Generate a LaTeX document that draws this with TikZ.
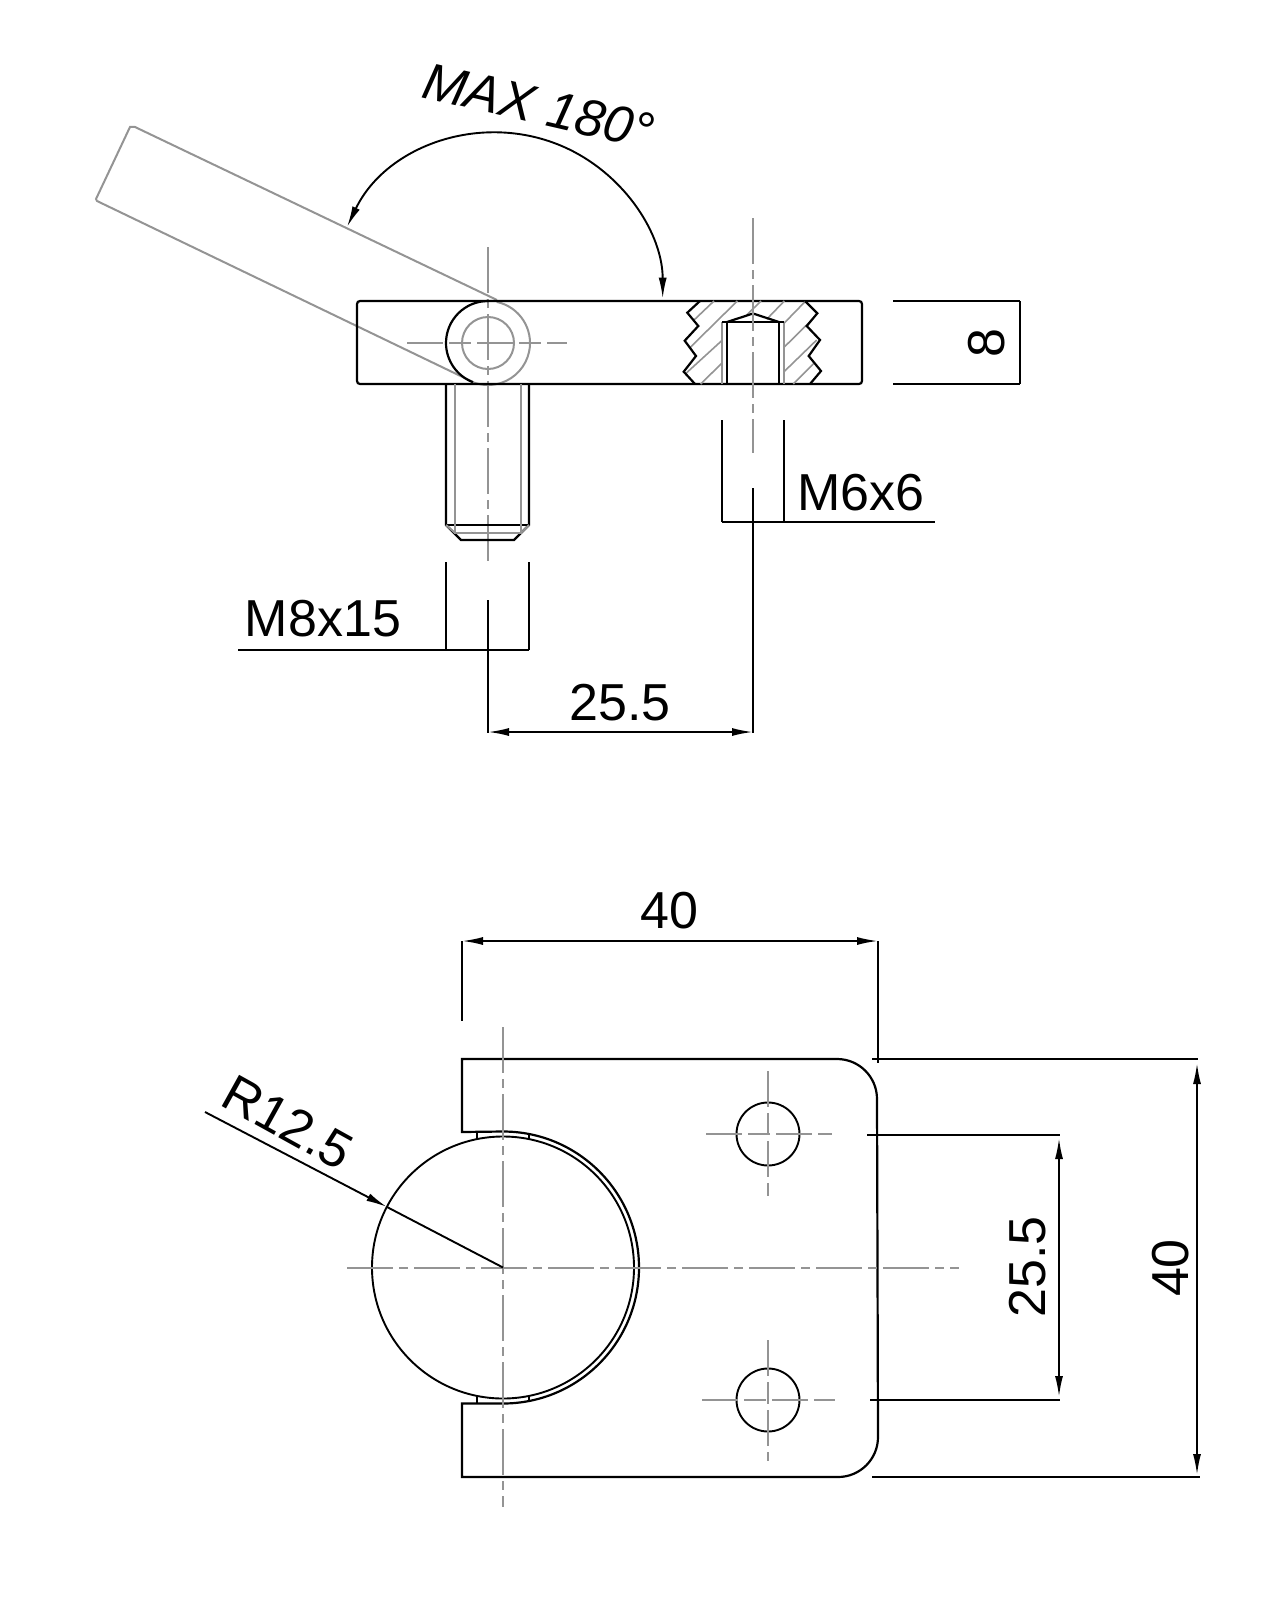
\documentclass[tikz,border=0pt]{standalone}
\usepackage{fontspec}
\setmainfont{Liberation Sans}
\usetikzlibrary{arrows.meta}
\tikzset{
  outline/.style={line width=2.2pt,color=black},
  dimline/.style={line width=1.9pt,color=black},
  greyline/.style={line width=2pt,color=black!42},
  centreline/.style={line width=2pt,color=black!42,dash pattern=on 46pt off 6pt on 9pt off 6pt},
  smallcentre/.style={line width=2pt,color=black!42,dash pattern=on 36pt off 6pt on 22pt off 6pt},
  dimarrow/.style={dimline,{Latex[length=21pt,width=8pt]}-{Latex[length=21pt,width=8pt]}},
  dimtext/.style={font=\fontsize{52}{60}\selectfont,inner sep=0pt}
}
\begin{document}
\begin{tikzpicture}[x=1pt,y=-1pt]
\useasboundingbox (0,0) rectangle (1280,1600);
\coordinate (pin) at (488,343);
\coordinate (hole) at (753,343);
\coordinate (bore) at (503,1267.5);
\coordinate (swing) at (497,299);

\draw[greyline] (497,300) -- (135,127) -- (130,127) -- (96,199) -- (97,201) -- (473,382);
\draw[centreline] (488,247) -- (488,565);
\draw[smallcentre] (407,343) -- (567,343);
\draw[greyline] (pin) circle[radius=26];
\draw[greyline] (pin) ++(-78:42) arc[start angle=-78,end angle=111,radius=42];
\draw[outline] (pin) ++(-90:42) arc[start angle=-90,end angle=-249,radius=42];
\draw[outline,rounded corners=3pt] (488,301) -- (357,301) -- (357,384) -- (862,384) -- (862,301) -- cycle;
\draw[outline] (446,384) -- (446,525) -- (461,540) -- (514,540) -- (529,525) -- (529,384);
\draw[outline] (446,525) -- (529,525);
\draw[greyline] (455,384) -- (455,533) -- (521,533) -- (521,384);
\draw[greyline] (446,525) -- (455,533) (529,525) -- (521,533);

\foreach \xa/\ya/\xb/\yb in {714/301/693.3/320.7,737.3/301/689.3/348.3,761/301/746.7/315,784.3/301/766.7/319.3,805/301.7/784/323.3,811.7/320/784/347.3,816.7/340/784/371.7,813.3/364/793.3/384,721.7/340.7/686/373.3,721.7/363.3/700.7/384}
  \draw[greyline,line width=1.6pt] (\xa,\ya) -- (\xb,\yb);
\draw[greyline] (722,322) -- (722,384) (784,322) -- (784,384);
\draw[outline] (700,301) -- (687.3,312.7) -- (698.3,326) -- (684.7,340.7) -- (696,356) -- (683.7,371.7) -- (695,384);
\draw[outline] (805,301) -- (817.3,313.3) -- (806.7,326) -- (820,340) -- (808.7,356) -- (821,371) -- (810,384);
\draw[outline] (727,384) -- (727,322) -- (779,322) -- (779,384);
\draw[outline] (722,322) -- (784,322);
\draw[outline] (727,322) -- (753,313.5) -- (779,322);
\draw[centreline] (hole |- 0,218) -- (hole |- 0,453);

\draw[dimline,{Latex[length=21pt,width=8pt]}-{Latex[length=21pt,width=8pt]}] (347,227) arc[start angle=-154.4,end angle=0,radius=166];
\node[dimtext,rotate=-13,font=\fontsize{52}{60}\selectfont\itshape] (maxangle) at (539,106) {MAX 180°};

\draw[dimline] (893,301) -- (1020,301);
\draw[dimline] (893,384) -- (1020,384);
\draw[dimline] (1020,301) -- (1020,384);
\node[dimtext,rotate=90] (dimthick) at (987,343) {8};
\draw[dimline] (722,420) -- (722,522) (784,420) -- (784,522);
\draw[dimline] (722,522) -- (935,522);
\node[dimtext] (dimhole) at (861,493) {M6x6};
\draw[dimline] (446,562) -- (446,650) (529,562) -- (529,650);
\draw[dimline] (238,650) -- (529,650);
\node[dimtext] (dimstud) at (323,619) {M8x15};
\draw[dimline] (488,600) -- (488,733);
\draw[dimline] (753,488) -- (753,733);
\draw[dimarrow] (488,732) -- (753,732);
\node[dimtext] (dimpitch) at (620,703) {25.5};

\draw[outline] (462,1132) -- (462,1059) -- (837,1059) arc[start angle=-90,end angle=0,radius=40] -- (878,1437) arc[start angle=0,end angle=90,radius=40] -- (462,1477) -- (462,1403.5) -- (503,1403.5) arc[start angle=90,end angle=-90,radius=136] -- cycle;
\draw[dimline] (bore) circle[radius=131];
\draw[dimline] (477,1132) -- (477,1139) (477,1403) -- (477,1396);
\draw[dimline] (529,1133.5) -- (529,1139) (529,1401.5) -- (529,1396);
\draw[centreline] (bore |- 0,1027) -- (bore |- 0,1507);
\draw[centreline] (347,1267.5) -- (959,1267.5);
\foreach \yh/\ya/\yb/\xa/\xb in {1134/1071/1196/706/832,1400/1340/1461/702/835} {
  \draw[dimline] (768,\yh) circle[radius=31.5];
  \draw[smallcentre] (768,\ya) -- (768,\yb);
  \draw[smallcentre] (\xa,\yh) -- (\xb,\yh);
}

\draw[dimarrow] (462,941) -- (878,941);
\draw[dimline] (462,941) -- (462,1021);
\draw[dimline] (878,941) -- (878,1063);
\node[dimtext] (dimwidth) at (669,911) {40};
\draw[dimline] (872,1059) -- (1198,1059);
\draw[dimline] (872,1477) -- (1200,1477);
\draw[dimarrow] (1197,1063) -- (1197,1475);
\node[dimtext,rotate=90] (dimheight) at (1171,1268) {40};
\draw[dimline] (867,1135) -- (1060,1135);
\draw[dimline] (870,1400) -- (1060,1400);
\draw[dimarrow] (1059,1138) -- (1059,1397);
\node[dimtext,rotate=90] (dimholes) at (1028,1267) {25.5};

\draw[dimline,-{Latex[length=21pt,width=8pt]}] (205,1112) -- (387,1207);
\draw[dimline] (387,1207) -- (bore);
\node[dimtext,rotate=-29] (dimradius) at (288,1122) {R12.5};
\end{tikzpicture}
\end{document}
